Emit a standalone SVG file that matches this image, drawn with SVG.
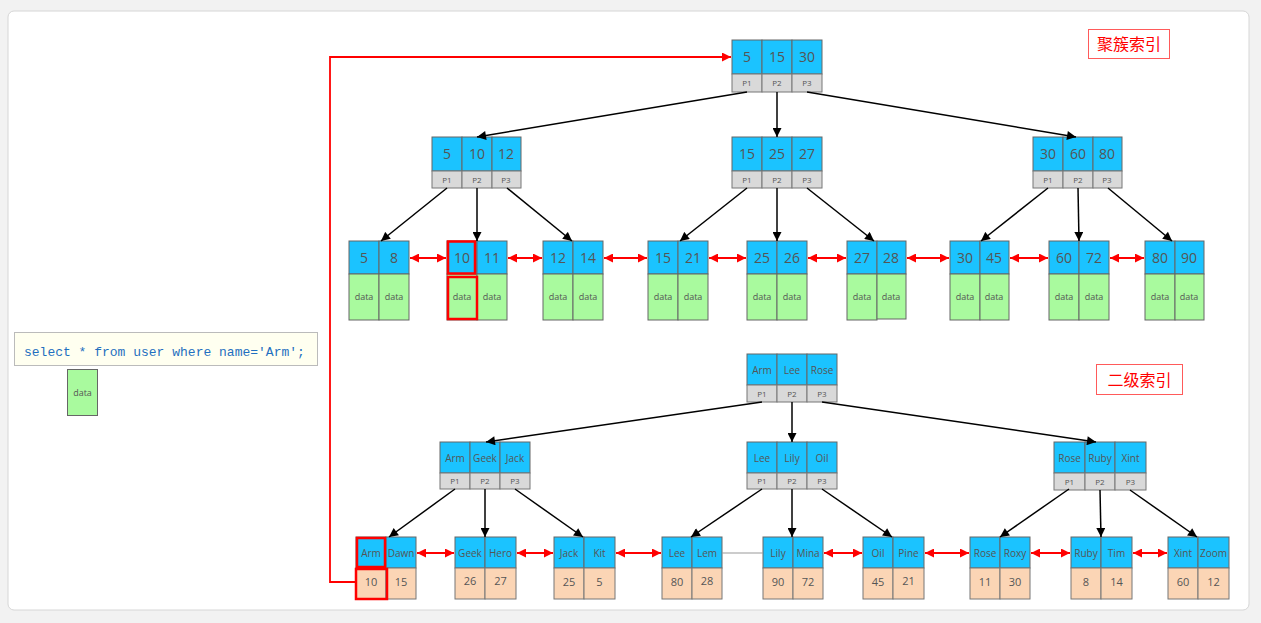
<svg xmlns="http://www.w3.org/2000/svg" width="1261" height="623" viewBox="0 0 1261 623">
<style>
.k{fill:#1bc3ff;stroke:#666;stroke-width:1}
.p{fill:#d9d9d9;stroke:#777;stroke-width:1}
.g{fill:#a9fa9e;stroke:#666;stroke-width:1}
.o{fill:#fbd5b5;stroke:#777;stroke-width:1}
text{font-family:"Open Sans","DejaVu Sans",sans-serif;fill:#555;text-anchor:middle}
.n14{font-size:14px}
.n10{font-size:10px}
.n11{font-size:11px}
.s8{font-size:8px}
.s9{font-size:9px}
.bl{stroke:#000;stroke-width:1.5;fill:none;marker-end:url(#ab)}
.rd{stroke:#f00;stroke-width:2;fill:none;marker-start:url(#ar);marker-end:url(#ar)}
.hl{fill:none;stroke:#f00;stroke-width:2.5}
.lbl{fill:#fff;stroke:#ff5a5a;stroke-width:1}
.lt{font-family:"Noto Sans CJK SC",sans-serif;font-size:16px;fill:#f00}
</style>
<defs>
<marker id="ab" viewBox="0 0 10 10" refX="10" refY="5" markerWidth="11" markerHeight="9" markerUnits="userSpaceOnUse" orient="auto-start-reverse"><path d="M0,0 L10,5 L0,10 z" fill="#000"/></marker>
<marker id="ar" viewBox="0 0 10 10" refX="10" refY="5" markerWidth="10" markerHeight="9" markerUnits="userSpaceOnUse" orient="auto-start-reverse"><path d="M0,0 L10,5 L0,10 z" fill="#f00"/></marker>
</defs>
<rect x="0" y="0" width="1261" height="623" fill="#f2f2f2"/>
<rect x="8" y="11" width="1241" height="599" rx="6" fill="#fff" stroke="#d6d6d6"/>

<!-- labels -->
<g id="label-clustered"><rect class="lbl" x="1088.5" y="29.5" width="81" height="29"/><text class="lt" x="1129" y="50">聚簇索引</text></g>
<g id="label-secondary"><rect class="lbl" x="1096.5" y="364.5" width="86" height="30"/><text class="lt" x="1139.5" y="386">二级索引</text></g>

<!-- sql -->
<g id="sql"><rect x="14.5" y="332.5" width="303" height="33" fill="#fffff0" stroke="#bbb"/><text x="24" y="355.5" style="font-family:'Liberation Mono','DejaVu Sans Mono',monospace;font-size:13px;fill:#1f6fc0;text-anchor:start">select * from user where name='Arm';</text></g>
<g id="data-result"><rect class="g" x="67.5" y="369.5" width="30" height="46"/><text class="s9" x="82.5" y="395.5">data</text></g>

<!-- clustered root -->
<g id="c-root">
<rect class="k" x="732" y="40" width="30" height="34"/><rect class="k" x="762" y="40" width="30" height="34"/><rect class="k" x="792" y="40" width="30" height="34"/>
<rect class="p" x="732" y="74" width="30" height="18"/><rect class="p" x="762" y="74" width="30" height="18"/><rect class="p" x="792" y="74" width="30" height="18"/>
<text class="n14" x="747" y="62">5</text><text class="n14" x="777" y="62">15</text><text class="n14" x="807" y="62">30</text>
<text class="s8" x="747" y="86">P1</text><text class="s8" x="777" y="86">P2</text><text class="s8" x="807" y="86">P3</text>
</g>
<g id="c-l2-a">
<rect class="k" x="432" y="137" width="30" height="34"/><rect class="k" x="462" y="137" width="30" height="34"/><rect class="k" x="492" y="137" width="29" height="34"/>
<rect class="p" x="432" y="171" width="30" height="17"/><rect class="p" x="462" y="171" width="30" height="17"/><rect class="p" x="492" y="171" width="29" height="17"/>
<text class="n14" x="447" y="159">5</text><text class="n14" x="477" y="159">10</text><text class="n14" x="506" y="159">12</text>
<text class="s8" x="447" y="183">P1</text><text class="s8" x="477" y="183">P2</text><text class="s8" x="506" y="183">P3</text>
</g>
<g id="c-l2-b">
<rect class="k" x="732" y="137" width="30" height="34"/><rect class="k" x="762" y="137" width="30" height="34"/><rect class="k" x="792" y="137" width="30" height="34"/>
<rect class="p" x="732" y="171" width="30" height="17"/><rect class="p" x="762" y="171" width="30" height="17"/><rect class="p" x="792" y="171" width="30" height="17"/>
<text class="n14" x="747" y="159">15</text><text class="n14" x="777" y="159">25</text><text class="n14" x="807" y="159">27</text>
<text class="s8" x="747" y="183">P1</text><text class="s8" x="777" y="183">P2</text><text class="s8" x="807" y="183">P3</text>
</g>
<g id="c-l2-c">
<rect class="k" x="1033" y="137" width="30" height="34"/><rect class="k" x="1063" y="137" width="30" height="34"/><rect class="k" x="1093" y="137" width="29" height="34"/>
<rect class="p" x="1033" y="171" width="30" height="17"/><rect class="p" x="1063" y="171" width="30" height="17"/><rect class="p" x="1093" y="171" width="29" height="17"/>
<text class="n14" x="1048" y="159">30</text><text class="n14" x="1078" y="159">60</text><text class="n14" x="1107" y="159">80</text>
<text class="s8" x="1048" y="183">P1</text><text class="s8" x="1078" y="183">P2</text><text class="s8" x="1107" y="183">P3</text>
</g>

<!-- clustered leaves -->
<g id="c-leaf-1"><rect class="k" x="349" y="241" width="30" height="33"/><rect class="k" x="379" y="241" width="30" height="33"/><rect class="g" x="349" y="274" width="30" height="46"/><rect class="g" x="379" y="274" width="30" height="46"/><text class="n14" x="364" y="263">5</text><text class="n14" x="394" y="263">8</text><text class="s9" x="364" y="300">data</text><text class="s9" x="394" y="300">data</text></g>
<g id="c-leaf-2"><rect class="k" x="447" y="241" width="30" height="33"/><rect class="k" x="477" y="241" width="30" height="33"/><rect class="g" x="447" y="274" width="30" height="46"/><rect class="g" x="477" y="274" width="30" height="46"/><text class="n14" x="462" y="263">10</text><text class="n14" x="492" y="263">11</text><text class="s9" x="462" y="300">data</text><text class="s9" x="492" y="300">data</text>
<rect class="hl" x="448" y="241.5" width="27" height="32"/><rect class="hl" x="448" y="277" width="29" height="42"/></g>
<g id="c-leaf-3"><rect class="k" x="543" y="241" width="30" height="33"/><rect class="k" x="573" y="241" width="30" height="33"/><rect class="g" x="543" y="274" width="30" height="46"/><rect class="g" x="573" y="274" width="30" height="46"/><text class="n14" x="558" y="263">12</text><text class="n14" x="588" y="263">14</text><text class="s9" x="558" y="300">data</text><text class="s9" x="588" y="300">data</text></g>
<g id="c-leaf-4"><rect class="k" x="648" y="241" width="30" height="33"/><rect class="k" x="678" y="241" width="30" height="33"/><rect class="g" x="648" y="274" width="30" height="46"/><rect class="g" x="678" y="274" width="30" height="46"/><text class="n14" x="663" y="263">15</text><text class="n14" x="693" y="263">21</text><text class="s9" x="663" y="300">data</text><text class="s9" x="693" y="300">data</text></g>
<g id="c-leaf-5"><rect class="k" x="747" y="241" width="30" height="33"/><rect class="k" x="777" y="241" width="30" height="33"/><rect class="g" x="747" y="274" width="30" height="46"/><rect class="g" x="777" y="274" width="30" height="46"/><text class="n14" x="762" y="263">25</text><text class="n14" x="792" y="263">26</text><text class="s9" x="762" y="300">data</text><text class="s9" x="792" y="300">data</text></g>
<g id="c-leaf-6"><rect class="k" x="847" y="241" width="30" height="33"/><rect class="k" x="877" y="241" width="29" height="33"/><rect class="g" x="847" y="274" width="30" height="46"/><rect class="g" x="877" y="274" width="29" height="45"/><text class="n14" x="862" y="263">27</text><text class="n14" x="891" y="263">28</text><text class="s9" x="862" y="300">data</text><text class="s9" x="891" y="300">data</text></g>
<g id="c-leaf-7"><rect class="k" x="950" y="241" width="30" height="33"/><rect class="k" x="980" y="241" width="29" height="33"/><rect class="g" x="950" y="274" width="30" height="46"/><rect class="g" x="980" y="274" width="29" height="46"/><text class="n14" x="965" y="263">30</text><text class="n14" x="994" y="263">45</text><text class="s9" x="965" y="300">data</text><text class="s9" x="994" y="300">data</text></g>
<g id="c-leaf-8"><rect class="k" x="1049" y="241" width="30" height="33"/><rect class="k" x="1079" y="241" width="30" height="33"/><rect class="g" x="1049" y="274" width="30" height="46"/><rect class="g" x="1079" y="274" width="30" height="46"/><text class="n14" x="1064" y="263">60</text><text class="n14" x="1094" y="263">72</text><text class="s9" x="1064" y="300">data</text><text class="s9" x="1094" y="300">data</text></g>
<g id="c-leaf-9"><rect class="k" x="1145" y="241" width="30" height="33"/><rect class="k" x="1175" y="241" width="29" height="33"/><rect class="g" x="1145" y="274" width="30" height="46"/><rect class="g" x="1175" y="274" width="29" height="46"/><text class="n14" x="1160" y="263">80</text><text class="n14" x="1189" y="263">90</text><text class="s9" x="1160" y="300">data</text><text class="s9" x="1189" y="300">data</text></g>

<!-- secondary root -->
<g id="s-root">
<rect class="k" x="747" y="354" width="30" height="31"/><rect class="k" x="777" y="354" width="30" height="31"/><rect class="k" x="807" y="354" width="30" height="31"/>
<rect class="p" x="747" y="385" width="30" height="17"/><rect class="p" x="777" y="385" width="30" height="17"/><rect class="p" x="807" y="385" width="30" height="17"/>
<text class="n10" x="762" y="374">Arm</text><text class="n10" x="792" y="374">Lee</text><text class="n10" x="822" y="374">Rose</text>
<text class="s8" x="762" y="396.5">P1</text><text class="s8" x="792" y="396.5">P2</text><text class="s8" x="822" y="396.5">P3</text>
</g>
<g id="s-l2-a">
<rect class="k" x="440" y="442" width="30" height="31"/><rect class="k" x="470" y="442" width="30" height="31"/><rect class="k" x="500" y="442" width="30" height="31"/>
<rect class="p" x="440" y="473" width="30" height="16"/><rect class="p" x="470" y="473" width="30" height="16"/><rect class="p" x="500" y="473" width="30" height="16"/>
<text class="n10" x="455" y="462">Arm</text><text class="n10" x="485" y="462">Geek</text><text class="n10" x="515" y="462">Jack</text>
<text class="s8" x="455" y="484">P1</text><text class="s8" x="485" y="484">P2</text><text class="s8" x="515" y="484">P3</text>
</g>
<g id="s-l2-b">
<rect class="k" x="747" y="442" width="30" height="31"/><rect class="k" x="777" y="442" width="30" height="31"/><rect class="k" x="807" y="442" width="30" height="31"/>
<rect class="p" x="747" y="473" width="30" height="16"/><rect class="p" x="777" y="473" width="30" height="16"/><rect class="p" x="807" y="473" width="30" height="16"/>
<text class="n10" x="762" y="462">Lee</text><text class="n10" x="792" y="462">Lily</text><text class="n10" x="822" y="462">Oil</text>
<text class="s8" x="762" y="484">P1</text><text class="s8" x="792" y="484">P2</text><text class="s8" x="822" y="484">P3</text>
</g>
<g id="s-l2-c">
<rect class="k" x="1054" y="442" width="31" height="31"/><rect class="k" x="1085" y="442" width="30" height="31"/><rect class="k" x="1115" y="442" width="31" height="31"/>
<rect class="p" x="1054" y="473" width="31" height="17"/><rect class="p" x="1085" y="473" width="30" height="17"/><rect class="p" x="1115" y="473" width="31" height="17"/>
<text class="n10" x="1069.5" y="462">Rose</text><text class="n10" x="1100" y="462">Ruby</text><text class="n10" x="1130.5" y="462">Xint</text>
<text class="s8" x="1069.5" y="484.5">P1</text><text class="s8" x="1100" y="484.5">P2</text><text class="s8" x="1130.5" y="484.5">P3</text>
</g>

<!-- secondary leaves -->
<g id="s-leaf-1"><rect class="k" x="356" y="537" width="30" height="31"/><rect class="k" x="386" y="537" width="30" height="31"/><rect class="o" x="356" y="568" width="30" height="31"/><rect class="o" x="386" y="568" width="30" height="31"/><text class="n10" x="371" y="556.5">Arm</text><text class="n10" x="401" y="556.5">Dawn</text><text class="n11" x="371" y="586">10</text><text class="n11" x="401" y="586">15</text>
<rect class="hl" x="357" y="538" width="28" height="29"/><rect class="hl" x="356" y="569" width="31" height="30"/></g>
<g id="s-leaf-2"><rect class="k" x="455" y="537" width="30" height="31"/><rect class="k" x="485" y="537" width="31" height="31"/><rect class="o" x="455" y="568" width="30" height="31"/><rect class="o" x="485" y="568" width="31" height="31"/><text class="n10" x="470" y="556.5">Geek</text><text class="n10" x="500.5" y="556.5">Hero</text><text class="n11" x="470" y="585">26</text><text class="n11" x="500.5" y="585">27</text></g>
<g id="s-leaf-3"><rect class="k" x="554" y="537" width="30" height="31"/><rect class="k" x="584" y="537" width="31" height="31"/><rect class="o" x="554" y="568" width="30" height="31"/><rect class="o" x="584" y="568" width="31" height="31"/><text class="n10" x="569" y="556.5">Jack</text><text class="n10" x="599.5" y="556.5">Kit</text><text class="n11" x="569" y="586">25</text><text class="n11" x="599.5" y="586">5</text></g>
<g id="s-leaf-4"><rect class="k" x="662" y="537" width="30" height="31"/><rect class="k" x="692" y="537" width="30" height="31"/><rect class="o" x="662" y="568" width="30" height="31"/><rect class="o" x="692" y="568" width="30" height="31"/><text class="n10" x="677" y="556.5">Lee</text><text class="n10" x="707" y="556.5">Lem</text><text class="n11" x="677" y="586">80</text><text class="n11" x="707" y="585">28</text></g>
<g id="s-leaf-5"><rect class="k" x="763" y="537" width="30" height="31"/><rect class="k" x="793" y="537" width="30" height="31"/><rect class="o" x="763" y="568" width="30" height="31"/><rect class="o" x="793" y="568" width="30" height="31"/><text class="n10" x="778" y="556.5">Lily</text><text class="n10" x="808" y="556.5">Mina</text><text class="n11" x="778" y="586">90</text><text class="n11" x="808" y="586">72</text></g>
<g id="s-leaf-6"><rect class="k" x="863" y="537" width="30" height="31"/><rect class="k" x="893" y="537" width="31" height="31"/><rect class="o" x="863" y="568" width="30" height="31"/><rect class="o" x="893" y="568" width="31" height="31"/><text class="n10" x="878" y="556.5">Oil</text><text class="n10" x="908.5" y="556.5">Pine</text><text class="n11" x="878" y="586">45</text><text class="n11" x="908.5" y="585">21</text></g>
<g id="s-leaf-7"><rect class="k" x="970" y="537" width="30" height="31"/><rect class="k" x="1000" y="537" width="30" height="31"/><rect class="o" x="970" y="568" width="30" height="31"/><rect class="o" x="1000" y="568" width="30" height="31"/><text class="n10" x="985" y="556.5">Rose</text><text class="n10" x="1015" y="556.5">Roxy</text><text class="n11" x="985" y="586">11</text><text class="n11" x="1015" y="586">30</text></g>
<g id="s-leaf-8"><rect class="k" x="1071" y="537" width="30" height="31"/><rect class="k" x="1101" y="537" width="31" height="31"/><rect class="o" x="1071" y="568" width="30" height="31"/><rect class="o" x="1101" y="568" width="31" height="31"/><text class="n10" x="1086" y="556.5">Ruby</text><text class="n10" x="1116.5" y="556.5">Tim</text><text class="n11" x="1086" y="586">8</text><text class="n11" x="1116.5" y="586">14</text></g>
<g id="s-leaf-9"><rect class="k" x="1168" y="537" width="30" height="31"/><rect class="k" x="1198" y="537" width="31" height="31"/><rect class="o" x="1168" y="568" width="30" height="31"/><rect class="o" x="1198" y="568" width="31" height="31"/><text class="n10" x="1183" y="556.5">Xint</text><text class="n10" x="1213.5" y="556.5">Zoom</text><text class="n11" x="1183" y="586">60</text><text class="n11" x="1213.5" y="586">12</text></g>

<!-- connectors -->
<g id="connectors">
<path class="bl" d="M747,92 L477,137"/><path class="bl" d="M777,92 L777,137"/><path class="bl" d="M807,92 L1076,137"/>
<path class="bl" d="M447,188 L381,241"/><path class="bl" d="M477,188 L477,241"/><path class="bl" d="M507,188 L572,241"/>
<path class="bl" d="M747,188 L680,241"/><path class="bl" d="M777,188 L777,241"/><path class="bl" d="M807,188 L874,241"/>
<path class="bl" d="M1048,188 L981,241"/><path class="bl" d="M1078,188 L1079,241"/><path class="bl" d="M1108,188 L1172,241"/>
<path class="rd" d="M410,258 L446,258"/><path class="rd" d="M508,258 L542,258"/><path class="rd" d="M604,258 L647,258"/><path class="rd" d="M709,258 L746,258"/><path class="rd" d="M808,258 L846,258"/><path class="rd" d="M907,258 L949,258"/><path class="rd" d="M1010,258 L1048,258"/><path class="rd" d="M1110,258 L1144,258"/>
<path class="bl" d="M762,402 L486,442"/><path class="bl" d="M792,402 L792,442"/><path class="bl" d="M822,402 L1096,442"/>
<path class="bl" d="M455,489 L389,537"/><path class="bl" d="M485,489 L485,537"/><path class="bl" d="M515,489 L583,537"/>
<path class="bl" d="M762,489 L691,537"/><path class="bl" d="M792,489 L792,537"/><path class="bl" d="M822,489 L892,537"/>
<path class="bl" d="M1069,489 L1000,537"/><path class="bl" d="M1100,490 L1101,537"/><path class="bl" d="M1130,490 L1197,537"/>
<path class="rd" d="M417,553 L454,553"/><path class="rd" d="M517,553 L553,553"/><path class="rd" d="M616,553 L661,553"/><path d="M722,553 L763,553" stroke="#999" stroke-width="1"/><path class="rd" d="M824,553 L862,553"/><path class="rd" d="M925,553 L969,553"/><path class="rd" d="M1031,553 L1070,553"/><path class="rd" d="M1133,553 L1167,553"/>
<path d="M356,582 L330,582 L330,57 L731,57" stroke="#f00" stroke-width="1.8" fill="none" marker-end="url(#ar)"/>
</g>
</svg>
